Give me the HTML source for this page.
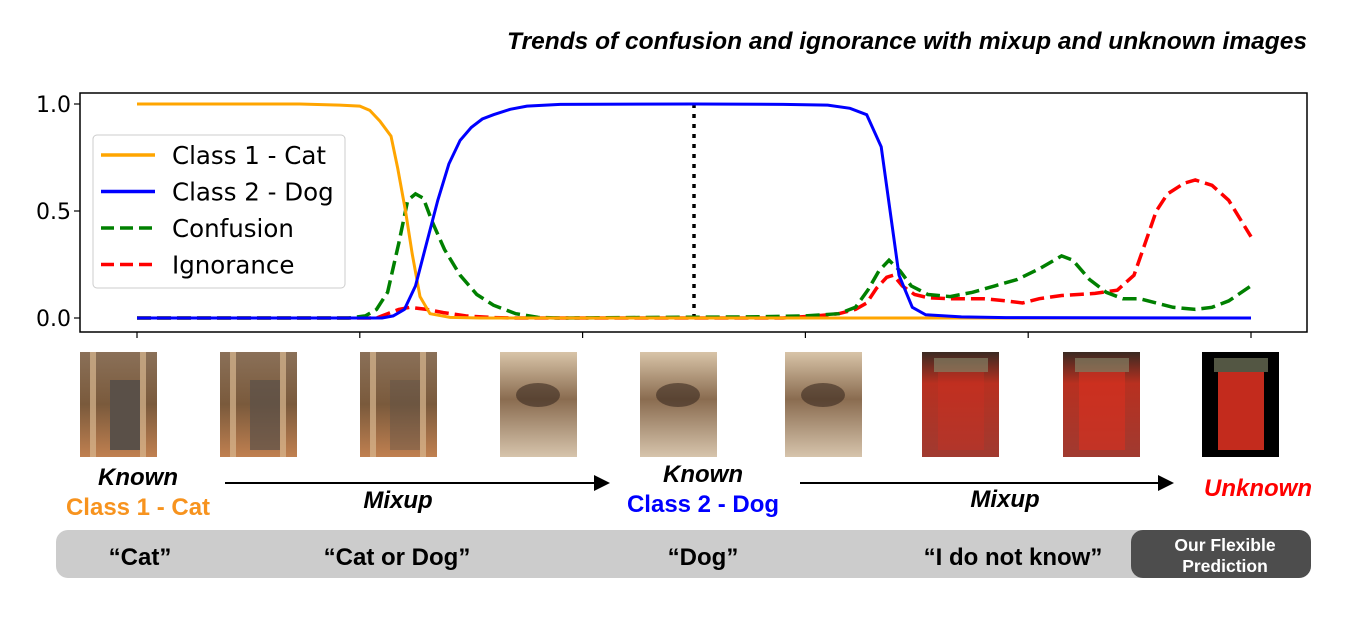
<!DOCTYPE html>
<html><head><meta charset="utf-8"><style>
body{margin:0;background:#fff;width:1364px;height:632px;overflow:hidden}
svg{display:block}
.lab{font-family:"Liberation Sans",Arial,sans-serif;font-weight:bold}
.mpl{font-family:"DejaVu Sans",sans-serif}
</style></head><body>
<svg id="fig" width="1364" height="632" viewBox="0 0 1364 632">
<defs>
<linearGradient id="gcat" x1="0" y1="0" x2="0" y2="1"><stop offset="0" stop-color="#8a7058"/><stop offset="0.5" stop-color="#7a5a3c"/><stop offset="1" stop-color="#c08050"/></linearGradient>
<linearGradient id="gdog" x1="0" y1="0" x2="0" y2="1"><stop offset="0" stop-color="#d8c4a8"/><stop offset="0.45" stop-color="#8a6c50"/><stop offset="1" stop-color="#d6c4ac"/></linearGradient>
<linearGradient id="gred" x1="0" y1="0" x2="0" y2="1"><stop offset="0" stop-color="#3a2a22"/><stop offset="0.3" stop-color="#b83020"/><stop offset="1" stop-color="#a03a30"/></linearGradient>
</defs>
<text x="1307" y="49" text-anchor="end" class="lab" font-style="italic" font-size="24.5">Trends of confusion and ignorance with mixup and unknown images</text>
<g id="plot"></g>
<g id="images"></g>
<g>
<text x="138" y="485" text-anchor="middle" class="lab" font-style="italic" font-size="24">Known</text>
<text x="138" y="515" text-anchor="middle" class="lab" font-size="24" fill="#f7931e">Class 1 - Cat</text>
<line x1="225" y1="483" x2="596" y2="483" stroke="#000" stroke-width="2"/><polygon points="610,483 594,475 594,491" fill="#000"/>
<text x="398" y="508" text-anchor="middle" class="lab" font-style="italic" font-size="24">Mixup</text>
<text x="703" y="482" text-anchor="middle" class="lab" font-style="italic" font-size="24">Known</text>
<text x="703" y="512" text-anchor="middle" class="lab" font-size="24" fill="#0000ff">Class 2 - Dog</text>
<line x1="800" y1="483" x2="1160" y2="483" stroke="#000" stroke-width="2"/><polygon points="1174,483 1158,475 1158,491" fill="#000"/>
<text x="1005" y="507" text-anchor="middle" class="lab" font-style="italic" font-size="24">Mixup</text>
<text x="1258" y="496" text-anchor="middle" class="lab" font-style="italic" font-size="24" fill="#ff0000">Unknown</text>
</g>
<g>
<rect x="56" y="530" width="1255" height="48" rx="12" fill="#cccccc"/>
<text x="140" y="565" text-anchor="middle" class="lab" font-size="24">“Cat”</text>
<text x="397" y="565" text-anchor="middle" class="lab" font-size="24">“Cat or Dog”</text>
<text x="703" y="565" text-anchor="middle" class="lab" font-size="24">“Dog”</text>
<text x="1013" y="565" text-anchor="middle" class="lab" font-size="24">“I do not know”</text>
<rect x="1131" y="530" width="180" height="48" rx="12" fill="#4d4d4d"/>
<text x="1225" y="551" text-anchor="middle" class="lab" font-size="17.5" fill="#fff">Our Flexible</text>
<text x="1225" y="572" text-anchor="middle" class="lab" font-size="17.5" fill="#fff">Prediction</text>
</g>
</svg>
<script>
const xTicks=[0,20,40,60,80,100];
const yTicks=[0,0.5,1.0];
const yTickLabels=["0.0","0.5","1.0"];
const catX=[0,14.6,18.2,20,20.9,21.8,22.8,23.4,24.1,24.7,25.4,26.3,28.1,30.8,100];
const catY=[1,1,0.995,0.99,0.97,0.92,0.85,0.7,0.5,0.3,0.1,0.02,0.003,0,0];
const dogX=[0,22,23,24,25,26,27,28,29,30,31,32,33.5,35,38,50,58,62,64,65.5,66.8,67.6,68.4,69.6,70.8,74,78,100];
const dogY=[0,0,0.01,0.04,0.15,0.35,0.55,0.72,0.83,0.89,0.93,0.95,0.975,0.99,0.998,1,0.998,0.995,0.98,0.95,0.8,0.5,0.2,0.05,0.015,0.005,0.002,0];
const confX=[0,19,20.5,21.5,22.5,23.5,24.3,25,25.7,26.5,27.6,29,30.5,32,34,36,38,55,60,63,64.5,65.6,66.6,67.5,68.5,69.5,71,73,75,77,79,81,83,84,85.5,87,88.5,90,91.5,93,95,96.5,98,100];
const confY=[0,0,0.01,0.04,0.12,0.35,0.55,0.58,0.56,0.45,0.32,0.2,0.11,0.06,0.02,0.003,0,0.005,0.01,0.02,0.05,0.13,0.22,0.27,0.22,0.15,0.11,0.1,0.12,0.15,0.18,0.23,0.29,0.27,0.18,0.12,0.09,0.09,0.07,0.05,0.04,0.05,0.08,0.15];
const ignX=[0,21.5,22.5,23.5,24.5,26,27.5,29.5,32,34,58,61,63,64.5,65.5,66.4,67.3,67.9,68.7,69.8,71,73,76,78,79.5,81,83,86,88,89.5,90.5,91.5,92.5,94,95,96.5,98,100];
const ignY=[0,0,0.02,0.04,0.05,0.04,0.025,0.01,0.002,0,0,0.01,0.02,0.04,0.07,0.14,0.19,0.2,0.15,0.11,0.095,0.09,0.09,0.08,0.07,0.09,0.105,0.115,0.13,0.2,0.35,0.5,0.58,0.63,0.645,0.62,0.55,0.38];
const markerX=[50];
const NS='http://www.w3.org/2000/svg';
const L=80,R=1307,T=93,B=332;
const xs=v=>137+(v/100)*1114;
const ys=v=>318-v*214;
const plot=document.getElementById('plot');
function mk(tag,attrs,parent){const e=document.createElementNS(NS,tag);for(const k in attrs)e.setAttribute(k,attrs[k]);(parent||plot).appendChild(e);return e;}
const frame=mk('rect',{x:L,y:T,width:R-L,height:B-T,fill:'none',stroke:'#000','stroke-width':1.5});


xTicks.forEach(t=>{const l=mk('line',{x1:xs(t),x2:xs(t),y1:B,y2:B+6,stroke:'#000','stroke-width':1.2});

});
yTicks.forEach((t,i)=>{const l=mk('line',{x1:L-6,x2:L,y1:ys(t),y2:ys(t),stroke:'#000','stroke-width':1.2});


const tx=mk('text',{x:L-9,y:ys(t)+8,'text-anchor':'end','font-size':22,class:'mpl'});tx.textContent=yTickLabels[i];

});
function path(X,Y){return X.map((x,i)=>(i?'L':'M')+xs(x).toFixed(1)+','+ys(Y[i]).toFixed(1)).join(' ');}
const vl=mk('line',{x1:xs(markerX[0]),x2:xs(markerX[0]),y1:ys(1),y2:ys(0),stroke:'#000','stroke-width':3.5,'stroke-dasharray':'4 6'});


const ign=mk('path',{d:path(ignX,ignY),fill:'none',stroke:'#ff0000','stroke-width':3.5,'stroke-dasharray':'14 6'});


const conf=mk('path',{d:path(confX,confY),fill:'none',stroke:'#008000','stroke-width':3.5,'stroke-dasharray':'14 6'});


const cat=mk('path',{d:path(catX,catY),fill:'none',stroke:'#ffa500','stroke-width':3});


const dog=mk('path',{d:path(dogX,dogY),fill:'none',stroke:'#0000ff','stroke-width':3});


const lg=mk('g',{});


mk('rect',{x:93,y:135,width:252,height:153,rx:4,fill:'#fff','fill-opacity':0.85,stroke:'#ccc','stroke-width':1},lg);
const legNames=['Class 1 - Cat','Class 2 - Dog','Confusion','Ignorance'];
const legCols=['#ffa500','#0000ff','#008000','#ff0000'];
legNames.forEach((n,i)=>{const y=155+i*36.5;
const ln=mk('line',{x1:101,x2:155,y1:y,y2:y,stroke:legCols[i],'stroke-width':3.5,'stroke-dasharray':i>1?'13 6':'none'},lg);


const t=mk('text',{x:172,y:y+9,'font-size':24.5,class:'mpl'},lg);t.textContent=n;

});
const imgs=document.getElementById('images');
const imgX=[80,220,360,500,640,785,922,1063,1202];
const fills=['url(#gcat)','url(#gcat)','url(#gcat)','url(#gdog)','url(#gdog)','url(#gdog)','url(#gred)','url(#gred)','url(#gred)'];
imgX.forEach((x,i)=>{const g=mk('g',{},imgs);


mk('rect',{x:x,y:352,width:77,height:105,fill:i===8?'#000':fills[i]},g);
if(i<3){mk('rect',{x:x+30,y:380,width:30,height:70,fill:'#5a5048',opacity:1-i*0.3},g);mk('rect',{x:x+10,y:352,width:6,height:105,fill:'#d8b890',opacity:0.7},g);mk('rect',{x:x+60,y:352,width:6,height:105,fill:'#d8b890',opacity:0.7},g);}
if(i>=3&&i<6){mk('ellipse',{cx:x+38,cy:395,rx:22,ry:12,fill:'#3a2a20',opacity:0.6},g);}
if(i>=6){mk('rect',{x:x+12,y:358,width:54,height:14,fill:'#8a9070',opacity:0.6},g);mk('rect',{x:x+16,y:372,width:46,height:78,fill:'#d83020',opacity:0.3+0.3*(i-6)},g);}
});
</script>
</body></html>
